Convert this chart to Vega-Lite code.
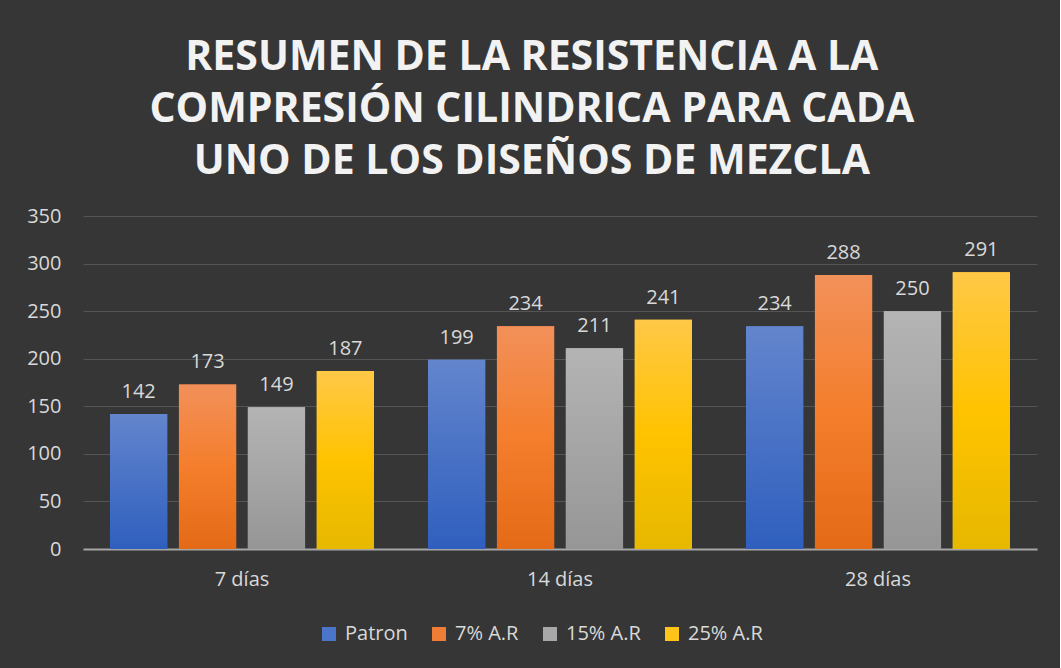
{
  "$schema": "https://vega.github.io/schema/vega-lite/v6.json",
  "width": 954,
  "height": 333,
  "padding": {"left": 26, "top": 37, "right": 23, "bottom": 25},
  "background": "#363636",
  "title": {
    "text": ["RESUMEN DE LA RESISTENCIA A LA", "COMPRESIÓN CILINDRICA PARA CADA", "UNO DE LOS DISEÑOS DE MEZCLA"],
    "font": "Open Sans",
    "fontSize": 41,
    "fontWeight": "bold",
    "color": "#f2f2f2",
    "lineHeight": 52,
    "anchor": "middle",
    "frame": "bounds",
    "offset": 23
  },
  "data": {
    "values": [
      {"edad": "7 días", "serie": "Patron", "valor": 142},
      {"edad": "7 días", "serie": "7% A.R", "valor": 173},
      {"edad": "7 días", "serie": "15% A.R", "valor": 149},
      {"edad": "7 días", "serie": "25% A.R", "valor": 187},
      {"edad": "14 días", "serie": "Patron", "valor": 199},
      {"edad": "14 días", "serie": "7% A.R", "valor": 234},
      {"edad": "14 días", "serie": "15% A.R", "valor": 211},
      {"edad": "14 días", "serie": "25% A.R", "valor": 241},
      {"edad": "28 días", "serie": "Patron", "valor": 234},
      {"edad": "28 días", "serie": "7% A.R", "valor": 288},
      {"edad": "28 días", "serie": "15% A.R", "valor": 250},
      {"edad": "28 días", "serie": "25% A.R", "valor": 291}
    ]
  },
  "encoding": {
    "x": {
      "field": "edad",
      "type": "nominal",
      "sort": ["7 días", "14 días", "28 días"],
      "scale": {"paddingInner": 0.17, "paddingOuter": 0.085},
      "axis": {
        "title": null,
        "labelAngle": 0,
        "ticks": false,
        "labelPadding": 20,
        "labelFontSize": 20,
        "labelColor": "#d9d9d9",
        "domainColor": "#a6a6a6",
        "domainWidth": 2,
        "grid": false
      }
    },
    "xOffset": {
      "field": "serie",
      "type": "nominal",
      "sort": ["Patron", "7% A.R", "15% A.R", "25% A.R"],
      "scale": {"paddingInner": 0.17, "paddingOuter": 0}
    },
    "y": {
      "field": "valor",
      "type": "quantitative",
      "scale": {"domain": [0, 350]},
      "axis": {
        "title": null,
        "values": [0, 50, 100, 150, 200, 250, 300, 350],
        "ticks": false,
        "domain": false,
        "labelPadding": 22,
        "labelFontSize": 20,
        "labelColor": "#d9d9d9",
        "gridColor": "#545454",
        "gridWidth": 1
      }
    }
  },
  "layer": [
    {
      "mark": {"type": "bar"},
      "encoding": {
        "color": {
          "field": "serie",
          "type": "nominal",
          "sort": ["Patron", "7% A.R", "15% A.R", "25% A.R"],
          "scale": {
            "domain": ["Patron", "7% A.R", "15% A.R", "25% A.R"],
            "range": ["#4a75c9", "#ef7d35", "#a8a8a8", "#ffc41a"]
          },
          "legend": {
            "title": null,
            "orient": "none",
            "direction": "horizontal",
            "legendX": 236,
            "legendY": 408,
            "symbolType": "square",
            "symbolSize": 196,
            "symbolStrokeWidth": 0,
            "labelFontSize": 20,
            "labelColor": "#d9d9d9",
            "labelOffset": 6,
            "columnPadding": 21
          }
        }
      }
    },
    {
      "mark": {"type": "bar"},
      "encoding": {
        "fill": {
          "condition": [
            {
              "test": "datum.serie === 'Patron'",
              "value": {"gradient": "linear", "x1": 0, "y1": 0, "x2": 0, "y2": 1, "stops": [{"offset": 0, "color": "#6385cd"}, {"offset": 1, "color": "#2f5fbe"}]}
            },
            {
              "test": "datum.serie === '7% A.R'",
              "value": {"gradient": "linear", "x1": 0, "y1": 0, "x2": 0, "y2": 1, "stops": [{"offset": 0, "color": "#f2905a"}, {"offset": 0.5, "color": "#f47e2c"}, {"offset": 1, "color": "#e46a17"}]}
            },
            {
              "test": "datum.serie === '15% A.R'",
              "value": {"gradient": "linear", "x1": 0, "y1": 0, "x2": 0, "y2": 1, "stops": [{"offset": 0, "color": "#b4b4b4"}, {"offset": 1, "color": "#969696"}]}
            }
          ],
          "value": {"gradient": "linear", "x1": 0, "y1": 0, "x2": 0, "y2": 1, "stops": [{"offset": 0, "color": "#ffc847"}, {"offset": 0.5, "color": "#ffc300"}, {"offset": 1, "color": "#e6b800"}]}
        }
      }
    },
    {
      "mark": {"type": "text", "baseline": "bottom", "dy": -12, "fontSize": 20, "color": "#d9d9d9"},
      "encoding": {
        "text": {"field": "valor", "type": "quantitative"}
      }
    }
  ],
  "config": {
    "font": "Open Sans",
    "view": {"stroke": null}
  }
}
